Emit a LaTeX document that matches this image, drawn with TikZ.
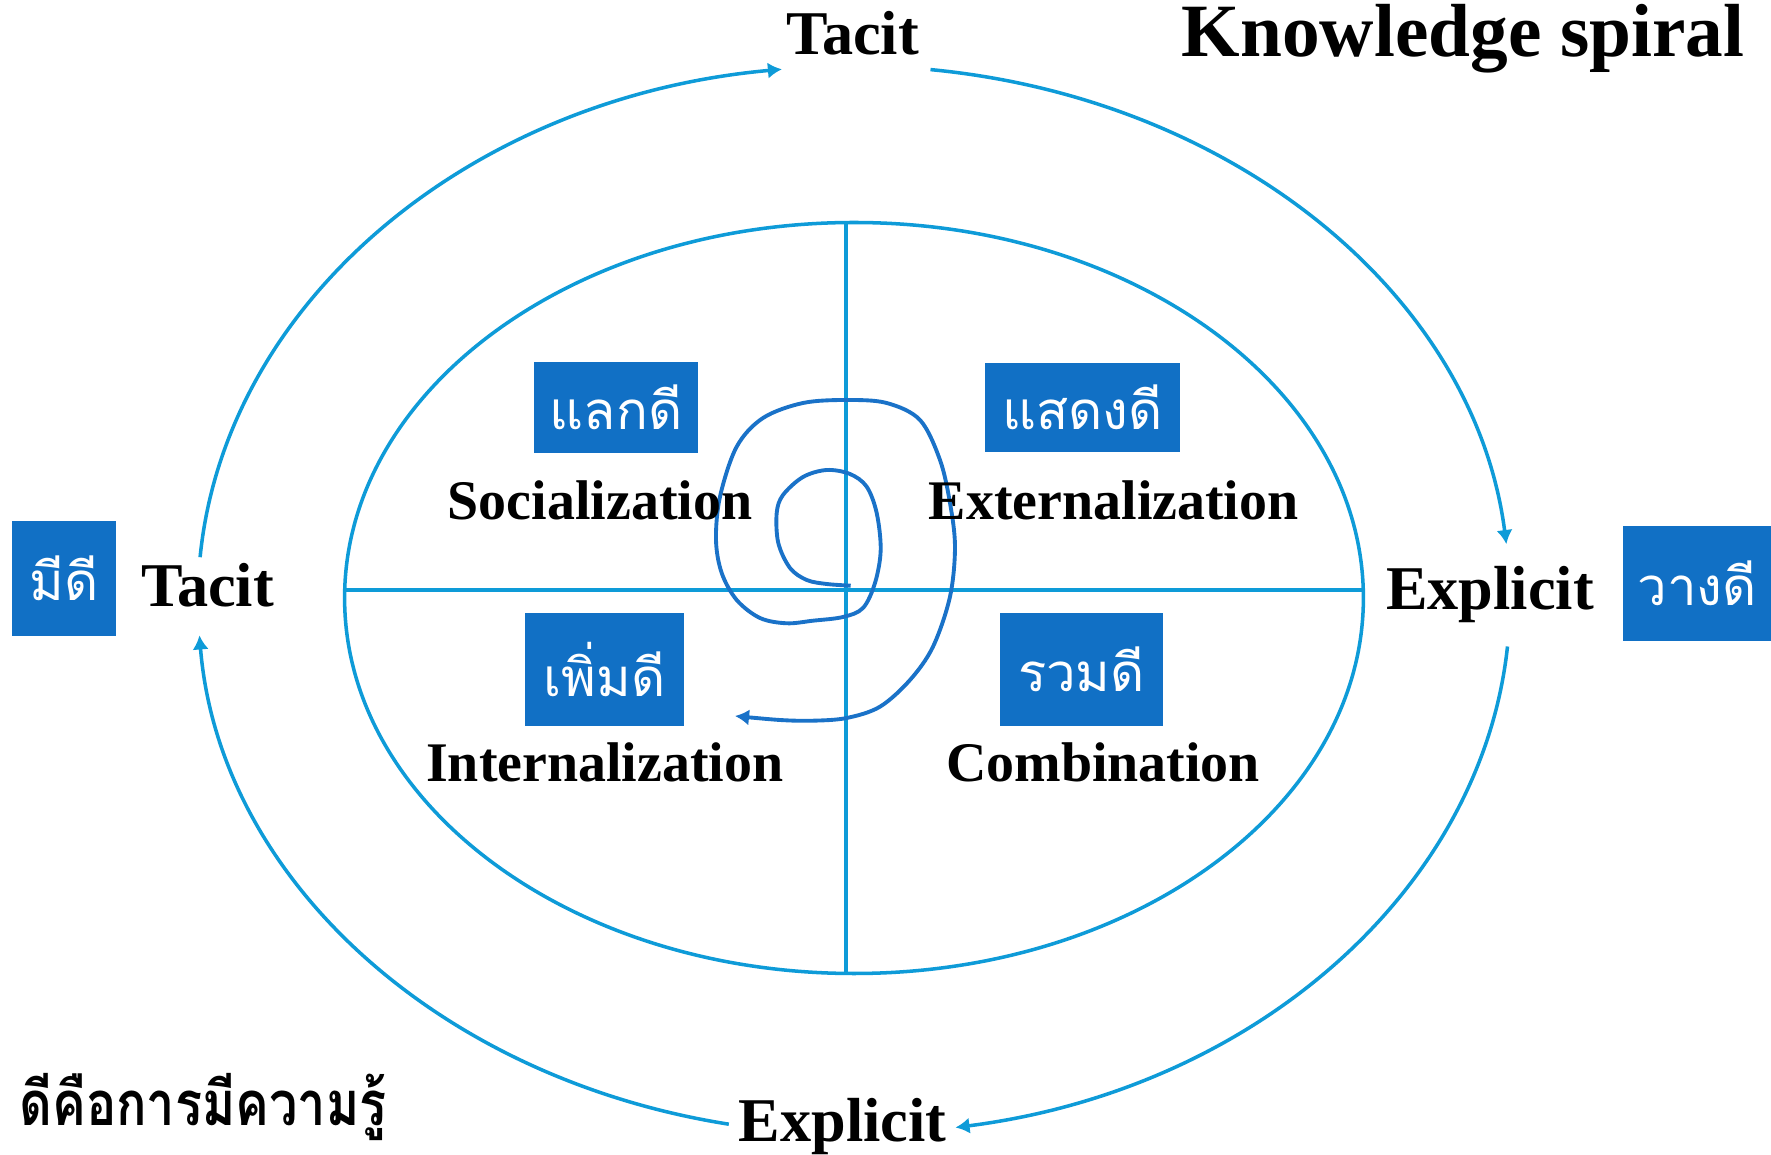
\documentclass[tikz,border=0pt]{standalone}
\usepackage{fontspec}
\setmainfont{Liberation Serif}
\newfontfamily\thaifont[Script=Thai]{Loma}
\usetikzlibrary{arrows.meta}
\definecolor{lineblue}{RGB}{14,155,216}
\definecolor{boxblue}{RGB}{17,112,197}
\definecolor{spiralblue}{RGB}{26,114,200}
\begin{document}
\begin{tikzpicture}[x=0.01cm,y=0.01cm,
  ring/.style={draw=lineblue, line width=1pt},
  cyc/.style={draw=lineblue, line width=1pt, -{Latex[length=4pt,width=4.6pt]}},
  tbox/.style={fill=boxblue, text=white, font=\thaifont\fontsize{15}{18}\selectfont, inner sep=0pt},
  lab/.style={font=\bfseries\fontsize{17.7}{20}\selectfont, anchor=base},
  qlab/.style={font=\bfseries\fontsize{15.9}{18}\selectfont, anchor=base},
]
\useasboundingbox[fill=white] (0,0) rectangle (1771,-1155);

% inner ellipse and axes
\node[draw=none, inner sep=0pt] (ctr) at (854,-598) {};
\draw[ring] (ctr) ellipse [x radius=509.4, y radius=375.5];
\coordinate (vtop) at (846,-222.6);
\coordinate (vbot) at (846,-973.4);
\coordinate (hl) at (344.6,-590);
\coordinate (hr) at (1363.2,-590);
\draw[ring] (vtop) -- (vbot);
\draw[ring] (hl) -- (hr);

% outer cycle
\coordinate (o1) at (200.1,-557.2);
\coordinate (o2) at (930.5,-69.6);
\coordinate (o3) at (1507.5,-646.5);
\coordinate (o4) at (728.8,-1124.2);
\draw[cyc] (o1) arc[start angle=175.4, end angle=96.3, x radius=656, y radius=534];
\draw[cyc] (o2) arc[start angle=83.3, end angle=6, x radius=656, y radius=534];
\draw[cyc] (o3) arc[start angle=-5, end angle=-81.1, x radius=656, y radius=534];
\draw[cyc] (o4) arc[start angle=259, end angle=183.8, x radius=656, y radius=534];

% spiral
\draw[draw=spiralblue, line width=1.1pt, -{Latex[length=4pt,width=4.6pt]}]
  plot[smooth, tension=0.55] coordinates {
  (850.7,-585.7) (826.7,-584) (806.7,-580) (790,-568) (778.3,-543) (776.7,-513)
  (783,-495) (803,-477) (826.7,-470) (850,-474) (866.7,-486.7) (876.7,-513)
  (880.7,-550) (875,-583) (863,-608) (843,-617) (813,-620.7) (786.7,-623.3)
  (760,-618) (736.7,-600) (721.7,-573) (716,-540) (720,-496.7) (736.7,-446.7)
  (763,-418) (803,-403) (846.7,-400) (886.7,-403) (920,-420) (940,-460)
  (950,-503) (955,-546.7) (950,-596.7) (933,-646.7) (910,-680) (880,-706.7)
  (846.7,-718) (813,-720.7) (780,-720) (735,-716)};

% labels
\node[lab] (tacitT) at (852.5,-55) {Tacit};
\node[lab] (tacitL) at (207.5,-606.7) {Tacit};
\node[lab] (explR) at (1490,-610) {Explicit};
\node[lab] (explB) at (842.5,-1142) {Explicit};
\node[font=\bfseries\fontsize{21.4}{24}\selectfont, anchor=base east, inner sep=0pt] (title) at (1745,-57) {Knowledge spiral};

\node[qlab] (soc) at (600,-520) {Socialization};
\node[qlab] (ext) at (1113.7,-520) {Externalization};
\node[qlab] (int) at (604.8,-781.6) {Internalization};
\node[qlab] (com) at (1103,-781.6) {Combination};

% Thai boxes
\node[tbox, minimum width=1.63cm, minimum height=0.91cm] (b1) at (616,-407.5) {แลกดี};
\node[tbox, minimum width=1.95cm, minimum height=0.89cm] (b2) at (1082.5,-407.5) {แสดงดี};
\node[tbox, minimum width=1.59cm, minimum height=1.13cm] (b3) at (604.5,-669.5) {เพิ่มดี};
\node[tbox, minimum width=1.63cm, minimum height=1.13cm] (b4) at (1081.5,-669.5) {รวมดี};
\node[tbox, minimum width=1.04cm, minimum height=1.15cm] (b5) at (64,-578.5) {มีดี};
\node[tbox, minimum width=1.48cm, minimum height=1.15cm] (b6) at (1697,-583.5) {วางดี};

% bottom-left Thai text
\node[font=\thaifont\bfseries\fontsize{17.5}{20}\selectfont, anchor=base east, inner sep=0pt, xscale=0.82] (motto) at (387,-1126) {ดีคือการมีความรู้};
\end{tikzpicture}
\end{document}
